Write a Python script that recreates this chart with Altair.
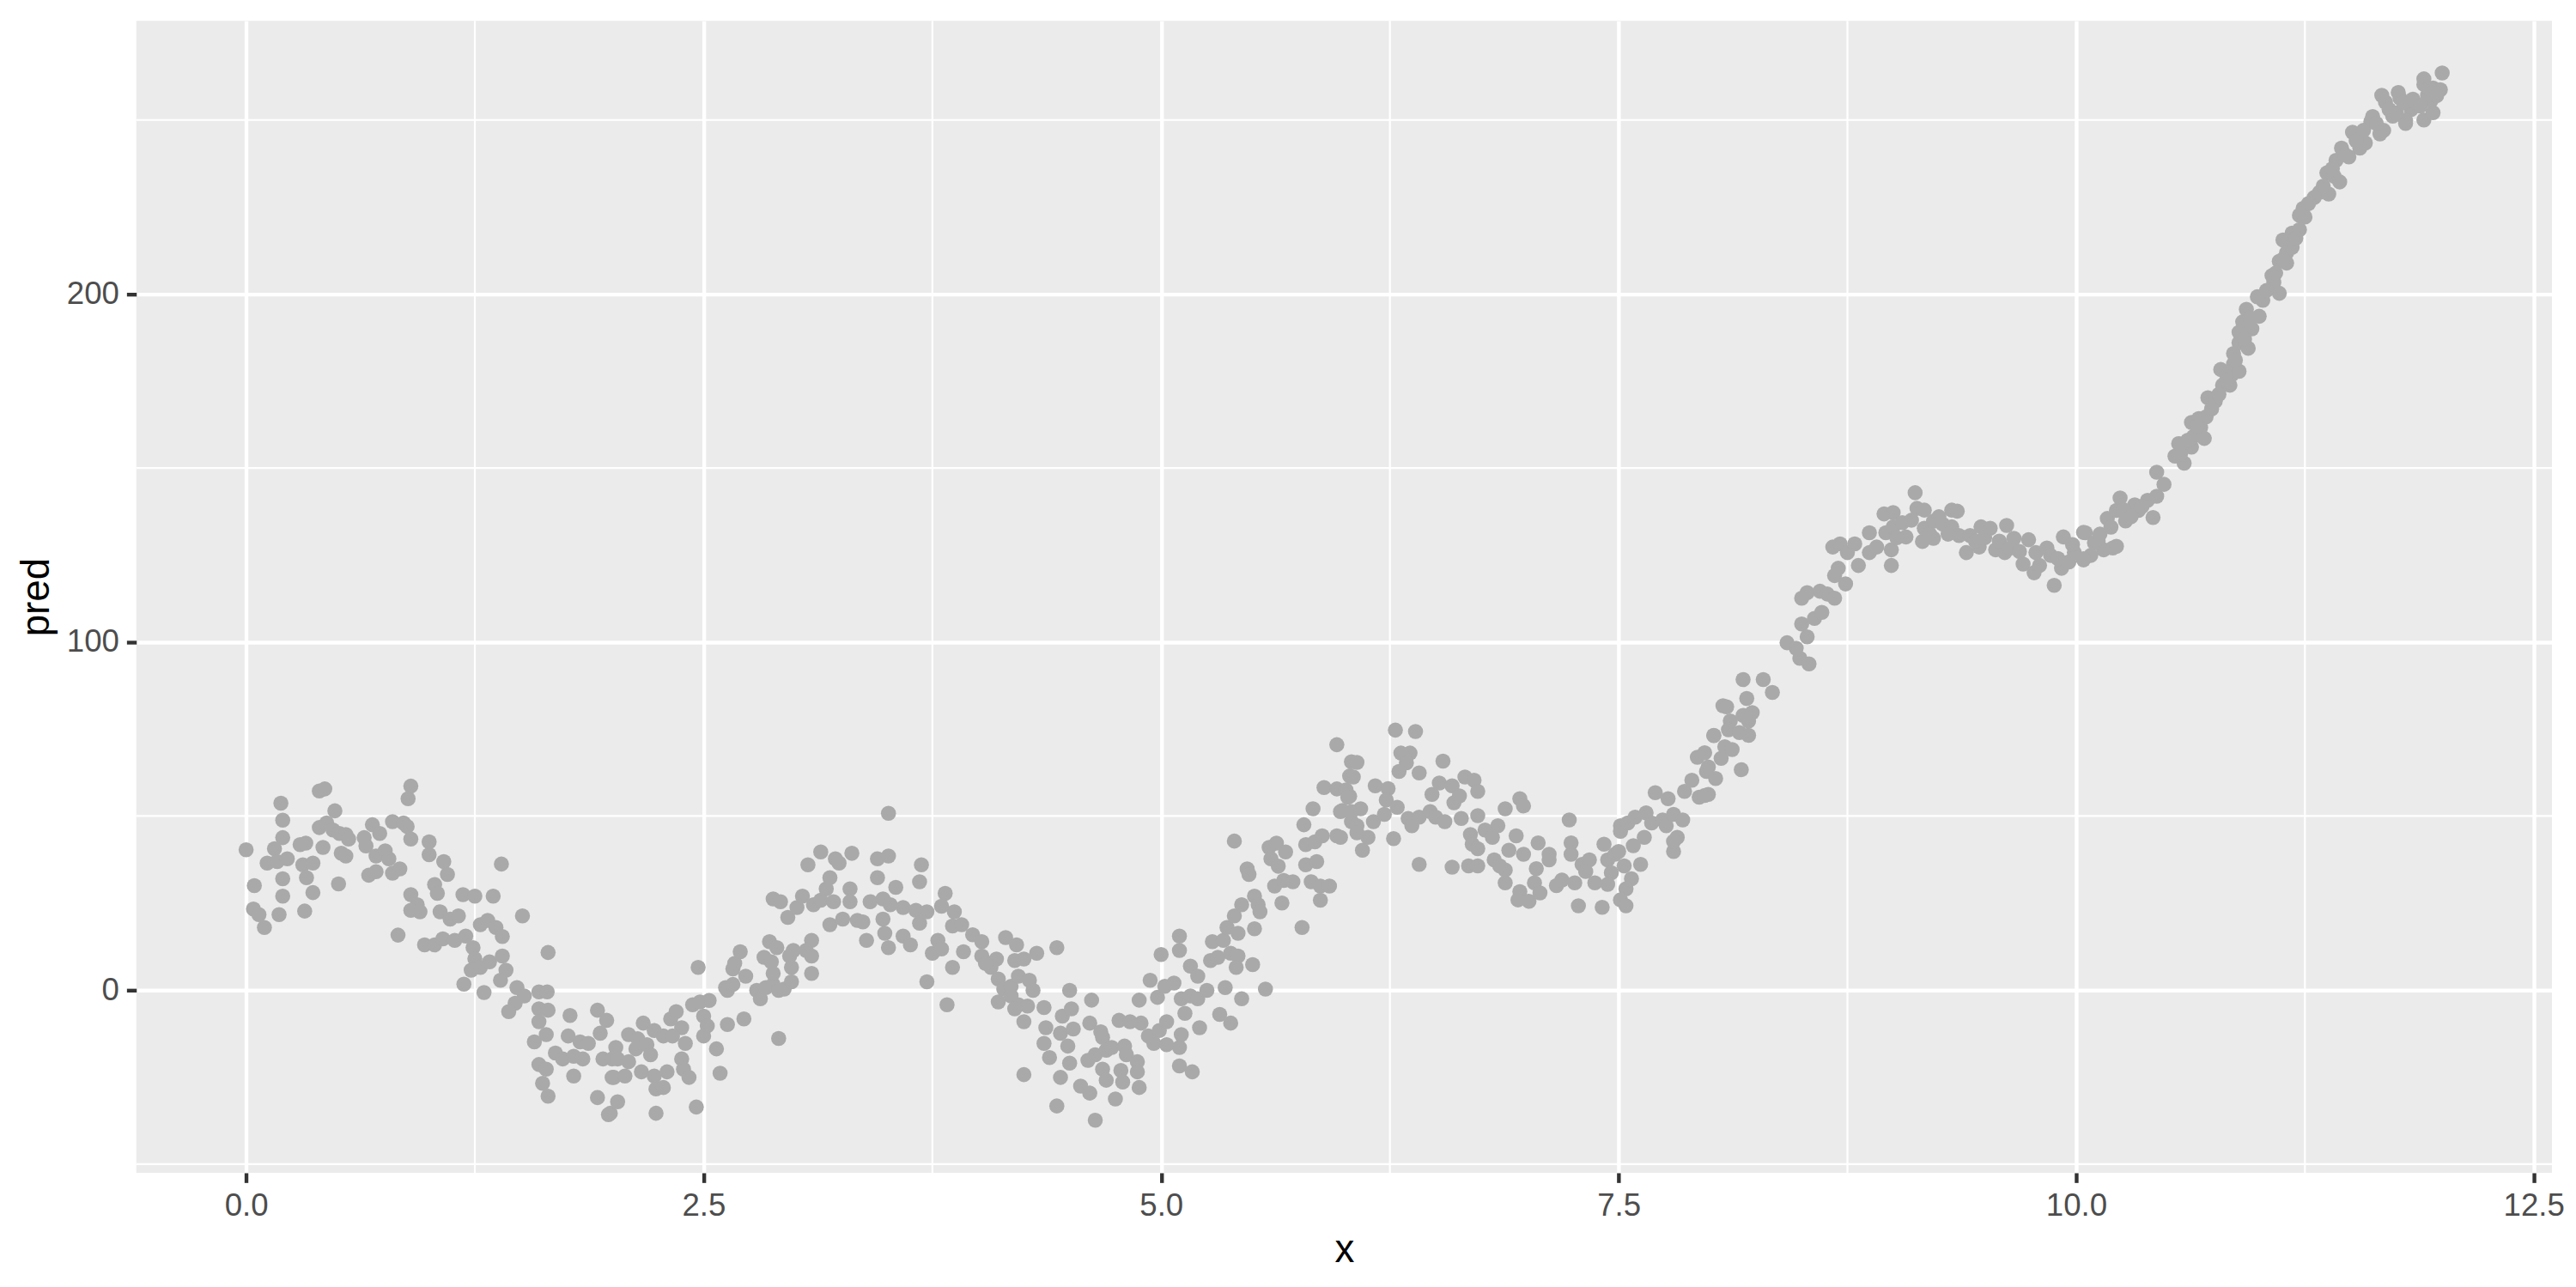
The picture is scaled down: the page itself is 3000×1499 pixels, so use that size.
import altair as alt
import pandas as pd

# (x, pred) pairs, segment by segment
seg1 = [(0.00,40.3),(0.045,30),(0.04,23.3),(0.07,21.7),(0.10,18),(0.18,21.7),(0.20,27),(0.20,32),(0.20,48.8),(0.19,53.7),
        (0.20,43.8),(0.155,40.6),(0.115,36.5),(0.17,36.9),(0.225,37.7),(0.295,41.8),(0.326,42.2),(0.31,36),(0.365,36.5),(0.33,32.3),
        (0.32,22.7),(0.365,28),(0.40,57.2),(0.43,57.8),(0.42,41),(0.40,46.7),(0.44,48),(0.485,51.5),(0.475,46),(0.51,45),
        (0.545,44.7),(0.56,43.4),(0.52,39.3),(0.545,38.5),(0.505,30.5),(0.645,43.8),(0.655,41.4),(0.69,47.5),(0.73,45),(0.71,38.5),
        (0.76,40),(0.78,37.7),(0.67,33),(0.71,34),(0.80,48.4),(0.86,48),(0.88,47),(0.90,43.4),(0.80,33.6),(0.84,34.8),
        (0.90,58.6),(0.885,55),(0.83,15.8),(1.00,42.6),(1.00,38.9),(1.08,36.9),(1.10,33.2),(1.03,30.3),(1.045,27.8),(0.90,27.4),
        (0.935,24.5),(0.90,22.9),(0.95,22.5),(0.975,13),(1.03,13),(1.075,14.7),(1.14,14.3),(1.06,22.5),(1.115,20.4),(1.16,21.3),
        (1.185,27.4),(1.25,27),(1.35,27),(1.395,36.2),(1.51,21.3),(1.20,15.5),(1.24,12.2),(1.25,9),(1.28,18.8),(1.32,20),
        (1.365,18),(1.40,15.4),(1.23,5.7),(1.28,6.5),(1.19,1.7),(1.30,-0.7),(1.33,8.1),(1.40,9.8),(1.42,5.7),(1.39,2.8),
        (1.65,10.8),(1.48,0.7),(1.52,-1.7),(1.47,-3.8),(1.435,-6.2),(1.60,-0.5),(1.645,-0.5),(1.60,-5.4),(1.65,-5.8),(1.60,-9.1),
        (1.575,-14.9),(1.64,-12.8),(1.60,-21.4),(1.64,-22.7),(1.62,-26.8),(1.65,-30.5),(1.77,-7.3),(1.76,-13.2),(1.825,-14.9),(1.87,-15.3),
        (1.69,-18.1),(1.73,-19.8),(1.79,-19),(1.84,-19.8),(1.79,-24.7),(1.92,-5.8),(1.97,-8.7),(1.935,-12.4),(1.95,-19.8),(2.00,-19.8),
        (2.00,-25.1),(1.92,-30.9),(1.99,-35.4)]

seg2 = [(2.02,-16.5),(2.03,-19.8),(2.01,-25.1),(2.07,-24.7),(2.03,-32.1),(1.98,-35.8),
        (2.09,-12.8),(2.14,-14),(2.13,-16.9),(2.19,-15.7),(2.21,-18.6),(2.09,-20.6),(2.16,-23.5),
        (2.17,-9.5),(2.23,-11.6),(2.28,-13.2),(2.23,-24.7),(2.30,-23.5),(2.24,-28.4),(2.28,-28),(2.24,-35.4),
        (2.32,-8.3),(2.35,-6.2),(2.38,-10.8),(2.33,-13.2),(2.40,-15.3),(2.38,-19.8),(2.39,-22.7),(2.42,-25.1),(2.46,-33.6),
        (2.44,-4.2),(2.48,-3.4),(2.53,-3),(2.50,-7.5),(2.52,-10.3),(2.50,-13.2),(2.47,6.5),(2.57,-16.9),(2.59,-23.9),
        (2.63,-9.9),(2.72,-8.3),(2.62,0.7),(2.63,-0.1),(2.66,1.6),(2.66,6.1),(2.67,7.7),(2.70,11),(2.73,4),
        (2.79,-0.1),(2.81,-2.5),(2.84,0.7),(2.88,1.6),(2.91,-0.1),(2.94,0.3),(2.91,-13.9),
        (2.83,9.4),(2.87,8.1),(2.86,13.9),(2.90,12.2),(2.88,4.8),(2.97,9.8),(2.99,11.4),(2.98,6.5),(2.98,2.4),
        (3.09,14.3),(3.09,9.8),(3.09,4.8),(3.06,11.4),(2.88,26.2),(2.92,25.4),(2.96,20.9),
        (3.01,23.7),(3.04,27),(3.07,36),(3.10,24.5),(3.14,39.7),(3.14,25.8),(3.17,29.1),(3.19,32.3),(3.21,25.4),
        (3.19,18.8),(3.22,37.7),(3.24,36.5),(3.26,20.4),(3.30,29.1),(3.31,39.3),(3.30,25.4),(3.34,20),(3.39,14.3),
        (3.37,19.6),(3.41,25.4),(3.45,37.7),(3.45,32.3),(3.48,20.4),(3.51,50.8),(3.51,38.5),(3.49,16.3),(3.51,12.2),
        (3.48,26.2),(3.55,29.5),(3.52,24.5),(3.59,23.7),(3.66,22.9),(3.68,19.2),(3.72,22.5),(3.59,15.5),(3.63,13),
        (3.69,36),(3.68,31.1),(3.72,2.4),(3.75,10.6),(3.78,14.3),(3.80,11.8),(3.83,-4.2),
        (3.82,27.8),(3.80,24.1),(3.87,22.5),(3.86,18.4),(3.91,18.8),(3.86,6.5),(3.92,11),(3.97,15.9),(4.02,13.9),(4.02,9.8)]

seg3 = [(4.07,6.5),(4.10,8.9),(4.04,7.7),(4.15,15.1),(4.21,13),(4.20,8.5),(4.25,8.9),(4.32,10.6),(4.43,12.2),
        (4.11,3.2),(4.14,0.3),(4.18,1.1),(4.22,4),(4.28,2.8),(4.30,-0.1),(4.11,-3.4),(4.18,-1.7),(4.22,-4.2),(4.27,-4.6),(4.20,-5.4),(4.25,-9.1),
        (4.36,-5),(4.25,-24.3),(4.50,-0.1),(4.62,-2.9),(4.46,-7.5),(4.51,-5.4),(4.37,-10.8),(4.36,-15.3),(4.39,-19.4),
        (4.45,-12.4),(4.52,-11.2),(4.49,-16.1),(4.45,-25.1),(4.43,-33.3),(4.50,-21),(4.56,-27.6),(4.61,-29.6),(4.64,-37.4),
        (4.61,-9.5),(4.67,-12),(4.68,-13.6),(4.64,-18.6),(4.60,-20.2),(4.70,-17.3),(4.73,-16.5),(4.68,-22.7),(4.70,-25.9),
        (4.80,-16.1),(4.81,-18.6),(4.78,-23.1),(4.79,-26.4),(4.75,-31.3),(4.87,-20.6),(4.87,-23.5),(4.88,-28),
        (4.77,-8.7),(4.83,-9.1),(4.89,-9.5),(4.88,-2.9),(4.94,2.8),(4.98,-2.1),(5.02,1.1),(5.07,2),
        (4.93,-13.2),(4.96,-15.3),(4.99,-11.6),(5.03,-9.1),(5.03,-15.7),(5.00,10.2),(5.10,11.4),(5.10,15.5),
        (5.10,-16.5),(5.11,-12.8),(5.10,-21.8),(5.17,-23.5),(5.11,-2.5),(5.16,-1.7),(5.20,-2.5),(5.13,-6.7),(5.21,-10.8),
        (5.16,6.9),(5.20,4),(5.25,-0.1),(5.27,8.5),(5.31,9.4),(5.35,0.7),(5.28,13.9),(5.34,14.3),(5.36,18),
        (5.38,10.6),(5.42,9.8),(5.41,6.5),(5.50,7.3),(5.57,0.3),(5.44,-2.5),(5.32,-7),(5.38,-9.5),
        (5.42,16.3),(5.40,21.3),(5.44,24.5),(5.51,17.6),(5.40,42.8),(5.47,34.8),(5.48,33.2),(5.51,27),(5.53,24.5),(5.54,22.5),
        (5.77,18),(5.66,25),(5.62,29.9),(5.67,31.5),(5.72,31.1),(5.59,41),(5.63,42.2),(5.60,37.7),(5.64,35.6),(5.68,39.7),
        (5.79,41.8),(5.79,36),(5.85,36.9),(5.82,31.1),(5.87,29.9),(5.92,29.9),(5.87,25.8),(5.78,47.5),(5.83,52.1),(5.88,44.3),(5.84,42.6),
        (5.89,58.2),(5.96,70.5),(5.96,57.8),(5.96,44.3),(5.99,51.6),(6.03,61.5),(6.04,65.6),(6.03,55.7),(6.04,48.4)]

seg4 = [(6.07,65.4),(6.05,61.2),(6.01,57.5),(6.02,55.4),(5.98,51.3),(6.04,51.3),(6.09,52.1),(5.98,43.9),(6.07,47.2),(6.07,45.2),(6.13,43.9),(6.10,40.2),
        (6.16,48.4),(6.22,50.5),(6.17,58.7),(6.24,57.9),(6.23,54.6),(6.29,52.5),(6.27,43.5),(6.28,74.7),(6.39,74.3),
        (6.31,68.1),(6.36,68.1),(6.34,65.3),(6.30,62.8),(6.41,62.4),(6.35,49.3),(6.37,47.2),(6.41,49.7),(6.47,51.3),(6.50,49.7),(6.55,48.4),(6.41,36.1),
        (6.48,56.2),(6.52,59.5),(6.54,65.8),(6.59,58.7),(6.60,53.8),(6.64,49.3),(6.63,55.8),(6.66,61.2),(6.71,60.3),(6.73,57.1),(6.73,50.1),
        (6.59,35.3),(6.68,35.7),(6.73,35.7),(6.69,44.7),(6.70,41.9),(6.73,40.6),(6.77,46),(6.81,43.9),(6.84,47.2),(6.88,52.1),(6.96,55),(6.98,52.9),
        (6.82,37.4),(6.88,34.5),(6.94,44.3),(6.90,40.2),(6.85,35.7),(6.88,30.8),(6.96,28.3),(6.95,25.9),(7.01,25.5),(6.98,39),(7.06,42.3),(7.05,34.9),(7.04,30.8),(7.07,27.9),
        (7.12,39),(7.12,37.4),(7.16,30),(7.19,31.6),(7.23,48.9),(7.24,42.3),(7.24,39),(7.26,30.8),(7.28,24.2),(7.30,36.1),(7.34,37.4),(7.32,34.1),(7.37,30.8),
        (7.41,23.8),(7.42,41.9),(7.44,37.4),(7.46,33.7),(7.44,30.4),(7.48,39),(7.50,39.8),
        (7.51,47.2),(7.51,45.6),(7.55,48),(7.59,49.7),(7.65,50.9),(7.53,35.7),(7.57,32),(7.54,29.1),(7.51,25.9),(7.54,24.2),
        (7.58,41.5),(7.62,36.1),(7.64,43.9),(7.68,48),(7.70,56.7),(7.74,48.9),(7.77,55),(7.76,47.2),(7.80,50.5),(7.85,48.9),(7.82,43.9),(7.80,39.8),(7.80,42.7),
        (7.86,57.1),(7.90,60.3),(7.93,66.9),(7.94,55.4),(7.98,62.8),(7.99,56.2),(8.02,73.1),(8.07,81.7)]

seg5 = [(7.97,55.9),(7.99,64.1),(8.03,60.8),(7.97,68.2),(8.02,73.2),(8.06,66.6),(8.08,69.9),(8.12,69.1),
        (8.09,81.4),(8.11,77.3),(8.10,74.8),(8.16,74),(8.21,73.2),(8.17,63.3),
        (8.18,78.9),(8.21,77.3),(8.23,79.7),(8.20,83.8),(8.18,89.2),(8.29,89.2),(8.34,85.5),
        (8.42,99.8),(8.47,98.2),(8.49,95.3),(8.54,93.7),
        (8.50,105.2),(8.53,101.5),(8.57,106.8),(8.61,108.5),(8.50,112.6),(8.53,114.2),(8.60,114.6),(8.64,113.8),(8.68,112.6),
        (8.70,121.2),(8.68,119.1),(8.74,116.7),(8.67,127.3),(8.71,128.2),
        (8.75,125.7),(8.79,128.2),(8.81,122),(8.87,131.4),(8.87,125.7),(8.91,127.3),
        (8.95,136.8),(9.00,137.2),(8.96,131.4),(9.00,133.1),(8.99,126.5),(8.99,122),
        (9.05,134.3),(9.07,130.2),(9.12,142.9),(9.13,138.4),(9.17,137.9),(9.16,128.9),
        (9.17,132.7),(9.22,134.7),(9.22,129.8),(9.27,133.9),(9.32,137.9),(9.35,137.6),(9.32,133.1),
        (9.36,130.6),(9.40,125.7),(9.42,130.6),(9.47,127.3),(9.48,133.1),(9.53,132.7),
        (9.56,126.5),(9.61,125.7),(9.62,133.5),(9.66,129.8),(9.71,122.4),(9.74,129.4),
        (9.77,119.9),(9.78,125.7),(9.86,124.9),(9.88,116.3),(9.92,121.2),(9.93,130.2),(9.99,125.7),
        (9.02,130),(9.10,135),(9.20,131),(9.25,136),(9.30,131),(9.45,129),(9.50,130),(9.58,129),
        (9.64,127),(9.69,126),(9.80,122),(9.84,127),(9.90,124),(9.96,123)]

seg6 = [(10.04,123.6),(10.05,131.4),(10.04,131.5),(10.08,124.9),(10.04,123.9),(9.98,128),(10.12,129),(10.15,126.5),(10.20,127),(10.22,127.5),
        (10.17,135.5),(10.22,137.8),(10.24,141.4),(10.27,134.8),(10.32,139.4),(10.34,137.8),
        (10.39,140.7),(10.44,141.9),(10.42,135.8),(10.44,148.8),(10.48,145.3),
        (10.54,153.4),(10.56,157),(10.59,151.4),(10.63,156),(10.64,159),(10.70,158.5),
        (10.63,163.1),(10.67,164.2),(10.71,164.7),(10.68,161.6),
        (10.72,170.2),(10.76,169.2),(10.78,171.2),(10.80,173.8),(10.84,173.8),(10.85,176.8),
        (10.79,178.3),(10.86,179.9),(10.89,177.8),(10.86,182.9),(10.89,186),(10.94,184.4),
        (10.89,189),(10.91,192),(10.96,190),(10.93,195.6),(11.00,193.6),(11.02,198.2),
        (10.99,199.2),(11.08,203.3),(11.11,200.2),(11.07,205.3),(11.11,209.4),(11.15,211.9),(11.18,213.4),
        (11.15,208.9),(11.13,215.5),(11.18,217.5),(11.22,218.5),(11.22,222.6),
        (11.24,224.6),(11.25,222.1),(11.30,227.7),(11.33,229.2),(11.38,228.7),
        (11.37,234.8),(11.41,233.8),(11.44,232.2),(11.42,238.4),(11.45,241.9),(11.49,239.4),(11.51,246.5),
        (11.55,241.9),(11.58,243.4),(11.61,249.5),(11.66,246),(11.68,247),(11.69,255.1),
        (11.73,251.1),(11.77,256.2),(11.80,249),(11.83,253),(11.86,254.6),(11.90,260.2),(11.90,250),
        (11.94,255.6),(11.95,259.2),(11.99,258.7),(12.00,263.5),(11.92,257.1),(11.95,252.1),
        (11.90,261.8),(11.62,251),(11.67,257.1),(11.76,257.9),(11.80,249.9),
        (10.10,128.5),(10.13,131),(10.19,133),(10.26,138),(10.30,136),(10.36,139),(10.57,154),(10.61,158),
        (10.66,162),(10.74,167),(10.82,175),(10.87,181),(10.92,187),(10.95,193),(11.04,201),(11.09,206),
        (11.13,210),(11.20,216),(11.27,226),(11.35,231),(11.40,236),(11.47,240),(11.53,244),(11.57,247),
        (11.64,249),(11.71,253),(11.75,252),(11.79,255),(11.84,256),(11.88,254),(11.93,259),(11.97,257)]

x_major = [0, 2.5, 5, 7.5, 10, 12.5]
x_minor = [1.25, 3.75, 6.25, 8.75, 11.25]
y_major = [0, 100, 200]
y_minor = [-50, 50, 150, 250]

pairs = seg1 + seg2 + seg3 + seg4 + seg5 + seg6
df = pd.DataFrame(pairs, columns=["x", "pred"])

FONT = "Liberation Sans"
xscale = alt.Scale(domain=[-0.6, 12.6], nice=False, zero=False)
yscale = alt.Scale(domain=[-52.5, 278.5], nice=False, zero=False)

common = dict(grid=True, gridColor="white", gridWidth=4.4, domain=False,
              ticks=True, tickColor="#333333", tickWidth=4.4, tickSize=11.4,
              labelPadding=9, labelFontSize=36.7, labelColor="#4D4D4D", labelFont=FONT,
              titleFont=FONT, titleFontSize=45.8, titleColor="black",
              titleFontWeight="normal", titlePadding=11, labelFlush=False)

x_axis = alt.Axis(values=x_major, format=".1f", title="x", **common)
y_axis = alt.Axis(values=y_major, format="d", title="pred", **common)

minor_x = alt.Chart(pd.DataFrame({"x": x_minor})).mark_rule(
    color="white", strokeWidth=2.2
).encode(x=alt.X("x:Q", scale=xscale, axis=x_axis))

minor_y = alt.Chart(pd.DataFrame({"pred": y_minor})).mark_rule(
    color="white", strokeWidth=2.2
).encode(y=alt.Y("pred:Q", scale=yscale, axis=y_axis))

points = alt.Chart(df).mark_circle(size=310, color="#A9A9A9", opacity=1).encode(
    x=alt.X("x:Q", scale=xscale, axis=x_axis),
    y=alt.Y("pred:Q", scale=yscale, axis=y_axis),
)

chart = alt.layer(minor_x, minor_y, points).properties(
    width=2818, height=1344,
    autosize=alt.AutoSizeParams(type="none"),
    padding={"left": 151, "top": 15, "right": 20, "bottom": 118},
    background="white",
).configure_view(fill="#EBEBEB", strokeWidth=0)

chart.save("out.html", embed_options={"renderer": "svg", "actions": False})
